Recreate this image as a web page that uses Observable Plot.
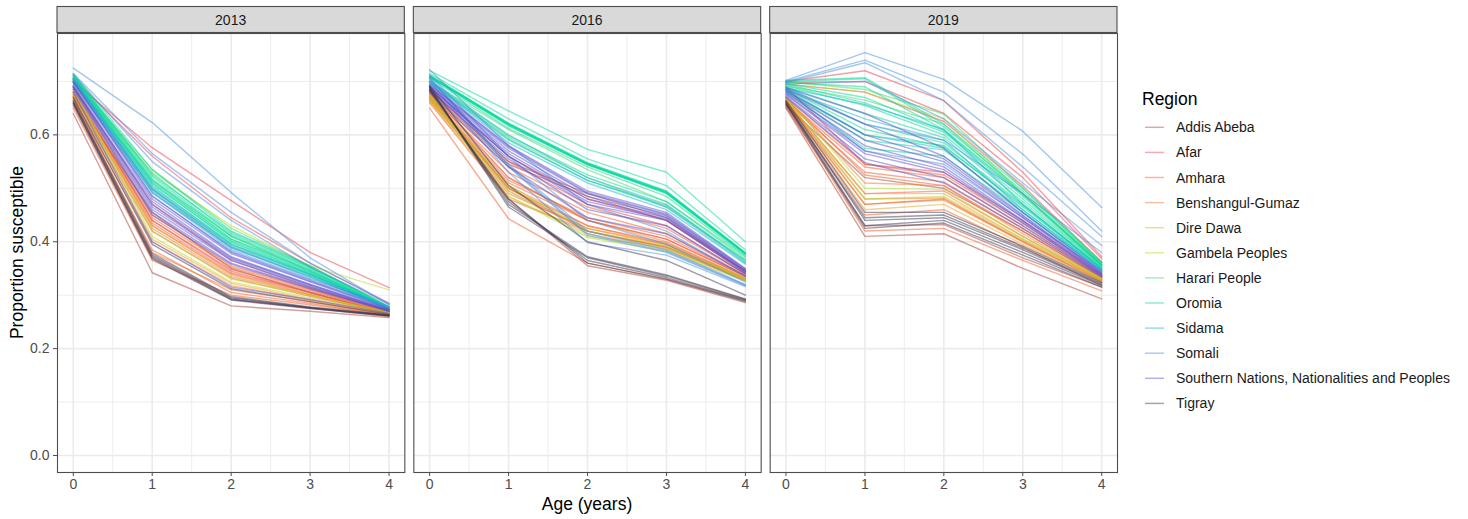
<!DOCTYPE html>
<html><head><meta charset="utf-8">
<script src="https://cdn.jsdelivr.net/npm/d3@7"></script>
<script src="https://cdn.jsdelivr.net/npm/@observablehq/plot@0.6"></script>
<style>
body{margin:0;background:#fff;font-family:"Liberation Sans",Arial,sans-serif;}
#wrap{position:relative;width:1468px;height:519px;overflow:hidden;}
#wrap > svg{position:absolute;left:0;top:0;}
</style></head><body><div id="wrap"></div>
<script>
const years = [2013, 2016, 2019];
const ages = [0, 1, 2, 3, 4];
const minorAges = [0.5, 1.5, 2.5, 3.5];
const yTicks = [0, 0.2, 0.4, 0.6];
const yMinor = [0.1, 0.3, 0.5, 0.7];
const regions = ["Addis Abeba","Afar","Amhara","Benshangul-Gumaz","Dire Dawa","Gambela Peoples","Harari People","Oromia","Sidama","Somali","Southern Nations, Nationalities and Peoples","Tigray"];
const regionColors = ["#A8403A","#E8424F","#F05A28","#ED7525","#EDA020","#B8D820","#40D860","#00D99A","#10B8C8","#4A8FE0","#5A50D0","#3A3550"];

// rows: [year, age0, age1, age2, age3, age4]
const addisAbeba = [
  [2013,.640,.342,.280,.270,.258],[2013,.655,.370,.292,.276,.260],[2013,.672,.455,.350,.305,.266],
  [2016,.680,.480,.355,.328,.286],[2016,.685,.550,.490,.445,.345],[2016,.682,.545,.485,.440,.342],
  [2019,.650,.410,.415,.350,.293],[2019,.655,.520,.500,.420,.332],[2019,.652,.430,.432,.370,.315]
];
const afar = [
  [2013,.700,.576,.477,.380,.314],[2013,.705,.560,.445,.360,.285],[2013,.690,.470,.365,.315,.270],[2013,.680,.440,.345,.305,.267],
  [2016,.690,.560,.480,.440,.345],[2016,.685,.550,.470,.430,.340],[2016,.680,.520,.440,.405,.335],[2016,.675,.500,.420,.390,.330],
  [2019,.700,.720,.664,.530,.372],[2019,.698,.700,.640,.520,.368],[2019,.690,.545,.530,.440,.340],[2019,.695,.680,.625,.505,.362]
];
const amhara = [
  [2013,.690,.450,.355,.312,.270],[2013,.685,.440,.348,.308,.268],[2013,.680,.435,.342,.305,.266],[2013,.675,.430,.340,.302,.265],
  [2013,.678,.445,.352,.310,.268],[2013,.668,.420,.332,.298,.265],[2013,.660,.385,.305,.285,.262],[2013,.650,.365,.300,.282,.262],
  [2016,.650,.443,.360,.330,.290],[2016,.670,.510,.440,.405,.335],[2016,.668,.500,.430,.398,.332],[2016,.672,.515,.445,.410,.336],
  [2016,.665,.490,.425,.395,.330],[2016,.675,.530,.455,.415,.338],[2016,.678,.540,.465,.425,.340],[2016,.660,.480,.420,.390,.328],
  [2019,.665,.540,.520,.430,.335],[2019,.662,.530,.512,.425,.333],[2019,.668,.525,.505,.420,.332],[2019,.660,.470,.480,.400,.325],
  [2019,.658,.450,.460,.390,.318],[2019,.664,.490,.495,.410,.328],[2019,.670,.545,.525,.435,.336],[2019,.655,.420,.425,.365,.308]
];
const benshangulGumaz = [
  [2013,.665,.400,.318,.290,.264],[2013,.675,.425,.335,.300,.266],[2013,.670,.380,.310,.288,.263],
  [2016,.670,.505,.430,.395,.330],[2016,.665,.495,.420,.388,.328],[2016,.675,.520,.440,.400,.332],
  [2019,.665,.470,.478,.400,.327],[2019,.662,.480,.482,.402,.328],[2019,.668,.510,.505,.415,.330]
];
const direDawa = [
  [2013,.672,.405,.322,.292,.265],[2013,.680,.430,.338,.300,.266],
  [2016,.668,.500,.425,.392,.330],[2016,.662,.485,.415,.385,.328],
  [2019,.665,.490,.490,.405,.330],[2019,.660,.460,.470,.395,.326]
];
const gambelaPeoples = [
  [2013,.700,.530,.430,.355,.310],[2013,.685,.420,.330,.300,.268],[2013,.680,.410,.325,.295,.266],
  [2016,.672,.495,.410,.388,.330],[2016,.668,.485,.408,.382,.326],[2016,.675,.505,.420,.392,.332],
  [2019,.695,.680,.630,.490,.355],[2019,.668,.480,.485,.405,.330],[2019,.672,.500,.498,.410,.332]
];
const harariPeople = [
  [2013,.705,.535,.425,.355,.278],[2013,.700,.515,.410,.345,.276],
  [2016,.700,.610,.535,.475,.372],[2016,.698,.595,.520,.465,.365],
  [2019,.700,.685,.639,.500,.360],[2019,.692,.665,.620,.490,.357]
];
const oromia = [
  [2013,.715,.535,.420,.355,.278],[2013,.712,.528,.415,.352,.277],[2013,.710,.522,.412,.350,.277],[2013,.708,.518,.410,.348,.276],
  [2013,.706,.512,.405,.345,.276],[2013,.705,.508,.402,.343,.275],[2013,.703,.502,.398,.340,.275],[2013,.700,.498,.395,.338,.274],
  [2013,.710,.515,.405,.347,.276],[2013,.712,.525,.418,.353,.278],[2013,.698,.492,.390,.335,.273],[2013,.707,.510,.400,.342,.275],
  [2016,.720,.645,.573,.530,.400],[2016,.715,.630,.555,.505,.385],[2016,.712,.622,.548,.495,.380],[2016,.710,.620,.546,.493,.378],
  [2016,.709,.619,.545,.492,.377],[2016,.709,.618,.545,.491,.377],[2016,.708,.617,.544,.490,.376],[2016,.706,.612,.540,.485,.373],
  [2016,.700,.598,.525,.475,.368],[2016,.710,.621,.547,.494,.379],[2016,.698,.590,.515,.468,.365],[2016,.712,.620,.545,.492,.379],
  [2019,.702,.707,.620,.500,.362],[2019,.700,.705,.615,.495,.360],[2019,.698,.690,.610,.490,.358],[2019,.695,.660,.605,.485,.356],
  [2019,.692,.655,.600,.480,.355],[2019,.690,.640,.595,.475,.354],[2019,.688,.620,.585,.470,.352],[2019,.685,.600,.580,.465,.350],
  [2019,.683,.590,.572,.460,.349],[2019,.680,.575,.560,.455,.347],[2019,.696,.670,.608,.488,.357],[2019,.686,.610,.578,.468,.351]
];
const sidama = [
  [2013,.705,.505,.395,.340,.276],[2013,.700,.495,.388,.335,.275],[2013,.702,.500,.392,.338,.275],
  [2016,.702,.600,.520,.470,.362],[2016,.698,.585,.510,.460,.358],[2016,.700,.592,.515,.465,.360],
  [2019,.688,.657,.610,.470,.350],[2019,.685,.630,.590,.460,.348],[2019,.682,.600,.575,.455,.346]
];
const somali = [
  [2013,.725,.623,.492,.370,.282],[2013,.715,.565,.455,.360,.284],[2013,.712,.550,.440,.352,.283],
  [2013,.705,.498,.390,.332,.279],[2013,.703,.492,.385,.330,.278],[2013,.700,.486,.380,.326,.277],
  [2016,.722,.580,.470,.420,.335],[2016,.712,.560,.440,.395,.325],[2016,.708,.545,.420,.385,.320],
  [2016,.705,.540,.412,.380,.318],[2016,.700,.530,.398,.375,.316],[2016,.706,.542,.415,.382,.319],
  [2019,.702,.754,.704,.607,.464],[2019,.700,.740,.680,.564,.420],[2019,.698,.735,.664,.540,.410],
  [2019,.695,.700,.630,.510,.393],[2019,.690,.620,.590,.490,.380],[2019,.685,.570,.545,.445,.345]
];
const snnp = [
  [2013,.695,.470,.370,.320,.272],[2013,.692,.465,.368,.318,.271],[2013,.690,.460,.365,.316,.271],
  [2013,.688,.455,.360,.314,.270],[2013,.698,.480,.378,.325,.273],[2013,.685,.450,.358,.312,.270],
  [2013,.700,.485,.382,.328,.274],[2013,.680,.400,.315,.292,.266],[2013,.690,.475,.372,.320,.272],
  [2016,.695,.580,.495,.455,.350],[2016,.692,.575,.490,.450,.348],[2016,.690,.570,.485,.448,.346],
  [2016,.688,.565,.480,.445,.345],[2016,.686,.560,.470,.440,.342],[2016,.684,.555,.460,.430,.340],
  [2016,.694,.578,.492,.452,.349],[2016,.680,.540,.445,.415,.336],[2016,.690,.560,.475,.442,.344],
  [2019,.685,.620,.560,.450,.342],[2019,.683,.600,.555,.448,.341],[2019,.680,.590,.550,.445,.340],
  [2019,.678,.580,.540,.440,.338],[2019,.675,.565,.530,.435,.337],[2019,.672,.555,.520,.430,.335],
  [2019,.688,.640,.575,.455,.344],[2019,.670,.548,.510,.425,.334],[2019,.676,.570,.535,.438,.337]
];
const tigray = [
  [2013,.660,.372,.293,.276,.262],[2013,.662,.375,.295,.277,.262],[2013,.658,.368,.291,.275,.261],
  [2013,.665,.378,.297,.278,.263],[2013,.670,.395,.312,.288,.264],
  [2016,.690,.465,.370,.336,.292],[2016,.688,.470,.372,.338,.293],[2016,.685,.475,.365,.333,.290],
  [2016,.683,.480,.360,.330,.288],[2016,.692,.505,.400,.365,.300],
  [2019,.660,.430,.440,.380,.318],[2019,.658,.425,.435,.375,.315],[2019,.662,.440,.445,.385,.320],
  [2019,.656,.445,.450,.388,.322],[2019,.664,.455,.455,.392,.324]
];
const regionRows = [addisAbeba, afar, amhara, benshangulGumaz, direDawa, gambelaPeoples, harariPeople, oromia, sidama, somali, snnp, tigray];

const data = [];
regions.forEach((r, ri) => {
  regionRows[ri].forEach((row, li) => {
    const [year, ...vals] = row;
    vals.forEach((v, i) => data.push({region: r, year, age: ages[i], value: v, id: r + "|" + li}));
  });
});

const W = 1130, H = 519, ML = 57, MR = 13, MT = 33, MB = 47;
const chart = Plot.plot({
  width: W, height: H, marginLeft: ML, marginRight: MR, marginTop: MT, marginBottom: MB,
  style: {fontFamily: "'Liberation Sans', Arial, sans-serif", fontSize: "14px", background: "transparent", color: "#4d4d4d"},
  fx: {domain: years, axis: null, paddingInner: 0.0253, paddingOuter: 0, round: false},
  x: {domain: [-0.2, 4.2], ticks: ages, tickSize: 4, tickPadding: 3, tickFormat: d3.format("d"), label: null},
  y: {domain: [-0.0318, 0.7897], ticks: yTicks, tickSize: 4, tickPadding: 4, tickFormat: d3.format(".1f"), label: null},
  color: {domain: regions, range: regionColors},
  marks: [
    Plot.ruleX(minorAges, {stroke: "#ebebeb", strokeWidth: 0.9}),
    Plot.ruleY(yMinor, {stroke: "#ebebeb", strokeWidth: 0.9}),
    Plot.ruleX(ages, {stroke: "#ebebeb", strokeWidth: 1.6}),
    Plot.ruleY(yTicks, {stroke: "#ebebeb", strokeWidth: 1.6}),
    Plot.line(data, {fx: "year", x: "age", y: "value", z: "id", stroke: "region", strokeOpacity: 0.5, strokeWidth: 1.4}),
    Plot.frame({stroke: "#4d4d4d", strokeWidth: 1.1})
  ]
});
document.getElementById("wrap").appendChild(chart);

const svg = d3.select(chart);
svg.selectAll('[aria-label$="axis tick"]').attr("stroke", "#333");
svg.selectAll('[aria-label$="tick label"]').attr("fill", "#4d4d4d");

// facet strips
const fxs = chart.scale("fx");
const fxScale = d3.scaleBand().domain(fxs.domain).range(fxs.range).paddingInner(0.0253).paddingOuter(0);
const bw = fxs.bandwidth ?? fxScale.bandwidth();
const sg = svg.append("g");
years.forEach(yr => {
  const x0 = fxs.apply ? fxs.apply(yr) : fxScale(yr);
  sg.append("rect").attr("x", x0).attr("y", 6.5).attr("width", bw).attr("height", 26)
    .attr("fill", "#d9d9d9").attr("stroke", "#4d4d4d").attr("stroke-width", 1.1);
  sg.append("text").attr("x", x0 + bw / 2).attr("y", 19.5).attr("text-anchor", "middle")
    .attr("dominant-baseline", "central").attr("font-size", 14).attr("fill", "#1a1a1a").text(yr);
});
// axis titles
svg.append("text").attr("x", (ML + W - MR) / 2).attr("y", 510).attr("text-anchor", "middle")
  .attr("font-size", 17.5).attr("fill", "#000").text("Age (years)");
svg.append("text").attr("transform", `translate(23,${(MT + H - MB) / 2}) rotate(-90)`).attr("text-anchor", "middle")
  .attr("font-size", 17.5).attr("fill", "#000").text("Proportion susceptible");

// legend
const lg = d3.select("#wrap").append("svg").attr("width", 338).attr("height", 519)
  .style("left", "1130px").style("top", "0px")
  .style("font-family", "'Liberation Sans', Arial, sans-serif");
lg.append("text").attr("x", 12).attr("y", 105).attr("font-size", 17.5).attr("fill", "#000").text("Region");
regions.forEach((r, i) => {
  const cy = 127.3 + 25.1 * i;
  lg.append("line").attr("x1", 15).attr("x2", 34).attr("y1", cy).attr("y2", cy)
    .attr("stroke", regionColors[i]).attr("stroke-opacity", 0.45).attr("stroke-width", 1.5);
  lg.append("text").attr("x", 46).attr("y", cy).attr("dominant-baseline", "central")
    .attr("font-size", 14).attr("fill", "#1a1a1a").text(r);
});
</script></body></html>
